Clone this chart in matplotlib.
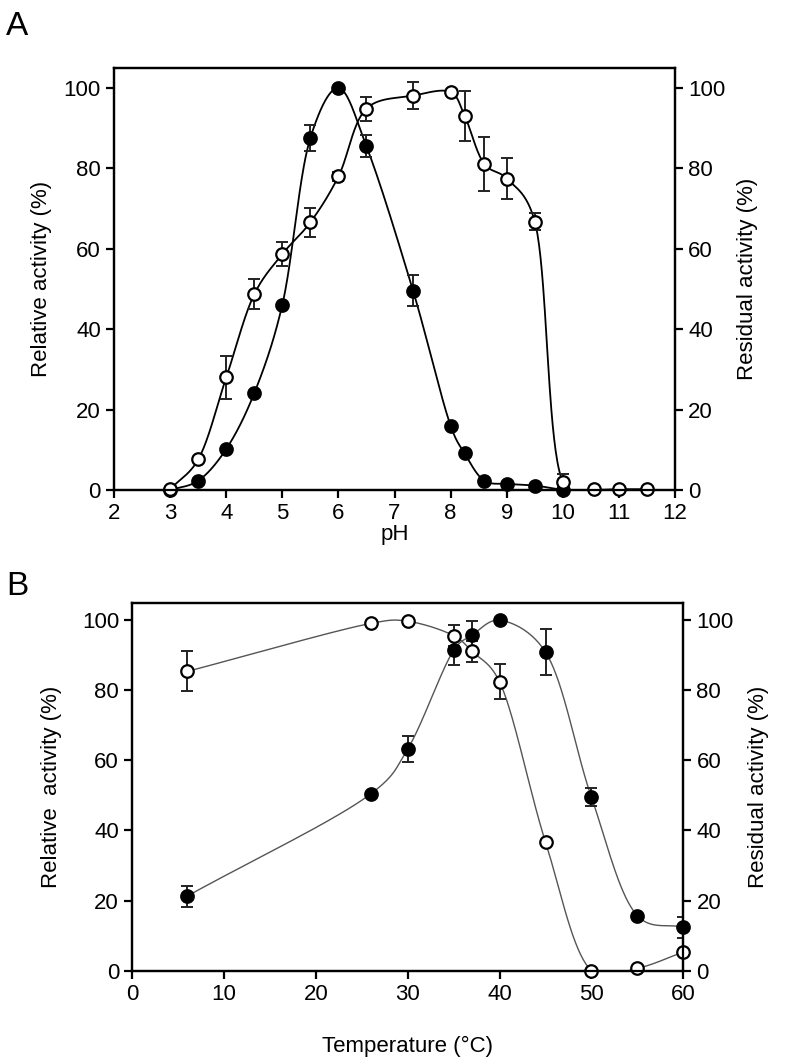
import numpy as np
import matplotlib
matplotlib.use("Agg")
import matplotlib.pyplot as plt

plt.rcParams['font.family'] = ['Liberation Sans', 'DejaVu Sans']

# ---- Panel A: pH ----
ph_rel = [3.0, 3.5, 4.0, 4.5, 5.0, 5.5, 6.0, 6.5, 7.33, 8.0, 8.25, 8.6, 9.0, 9.5, 10.0]
rel_ph = [0.0, 2.3, 10.2, 24.1, 46.1, 87.6, 100.0, 85.5, 49.6, 16.0, 9.1, 2.3, 1.5, 1.1, 0.0]
rel_ph_err = [0, 0, 0, 0, 0, 3.3, 0, 2.7, 3.9, 0, 0, 0, 0, 0, 0]

ph_res = [3.0, 3.5, 4.0, 4.5, 5.0, 5.5, 6.0, 6.5, 7.33, 8.0, 8.25, 8.6, 9.0, 9.5, 10.0, 10.55, 11.0, 11.5]
res_ph = [0.2, 7.6, 28.0, 48.7, 58.7, 66.6, 78.0, 94.9, 98.1, 99.0, 93.1, 81.1, 77.5, 66.8, 2.1, 0.2, 0.2, 0.2]
res_ph_err = [0, 0, 5.3, 3.7, 2.9, 3.6, 1.2, 3.0, 3.4, 0, 6.2, 6.8, 5.2, 2.0, 2.0, 0, 0, 0]

# ---- Panel B: temperature ----
temp = [6, 26, 30, 35, 37, 40, 45, 50, 55, 60]
rel_t = [21.3, 50.5, 63.3, 91.4, 95.7, 100.0, 90.9, 49.5, 15.7, 12.4]
rel_t_err = [3.0, 0, 3.8, 4.3, 4.0, 0, 6.6, 2.5, 0, 3.0]
res_t = [85.4, 99.1, 99.7, 95.6, 91.1, 82.4, 36.7, 0.0, 0.7, 5.3]
res_t_err = [5.7, 0, 0, 3.0, 3.0, 5.0, 0, 0, 0, 0]


def spline(x, y, sx, sy, alpha=0.3, n=40):
    # Catmull-Rom through the points, worked out in pixel space
    P = np.column_stack([np.asarray(x, float) * sx, np.asarray(y, float) * sy])
    P = np.vstack([2 * P[0] - P[1], P, 2 * P[-1] - P[-2]])
    out = []
    for i in range(1, len(P) - 2):
        p0, p1, p2, p3 = P[i - 1], P[i], P[i + 1], P[i + 2]
        t0 = 0.0
        t1 = t0 + max(np.linalg.norm(p1 - p0), 1e-6) ** alpha
        t2 = t1 + max(np.linalg.norm(p2 - p1), 1e-6) ** alpha
        t3 = t2 + max(np.linalg.norm(p3 - p2), 1e-6) ** alpha
        t = np.linspace(t1, t2, n)[:, None]
        a1 = (t1 - t) / (t1 - t0) * p0 + (t - t0) / (t1 - t0) * p1
        a2 = (t2 - t) / (t2 - t1) * p1 + (t - t1) / (t2 - t1) * p2
        a3 = (t3 - t) / (t3 - t2) * p2 + (t - t2) / (t3 - t2) * p3
        b1 = (t2 - t) / (t2 - t0) * a1 + (t - t0) / (t2 - t0) * a2
        b2 = (t3 - t) / (t3 - t1) * a2 + (t - t1) / (t3 - t1) * a3
        c = (t2 - t) / (t2 - t1) * b1 + (t - t1) / (t2 - t1) * b2
        out.append(c)
    out = np.vstack(out)
    return out[:, 0] / sx, out[:, 1] / sy


def draw_series(ax, x, y, err, filled, lcolor, lw, sx, sy):
    xs, ys = spline(x, y, sx, sy)
    ax.plot(xs, ys, color=lcolor, lw=lw, zorder=2)
    e = np.asarray(err, float)
    mask = e > 0
    ax.errorbar(np.asarray(x)[mask], np.asarray(y)[mask], yerr=e[mask], fmt='none',
                ecolor='#222222', elinewidth=1.4, capsize=4, capthick=1.4, zorder=3)
    ax.plot(x, y, 'o', ms=9, mfc='black' if filled else 'white', mec='black',
            mew=1.6, zorder=4, clip_on=False)


def style_axes(ax):
    for s in ax.spines.values():
        s.set_linewidth(1.6)
    ax.tick_params(direction='out', length=6, width=1.6, labelsize=16)
    ax.set_ylim(0, 105)
    ax.set_yticks(range(0, 101, 20))


fig = plt.figure(figsize=(7.93, 10.62), dpi=100)

# Panel A
axA = fig.add_axes([0.1438, 0.5386, 0.7074, 0.3974])
draw_series(axA, ph_rel, rel_ph, rel_ph_err, True, 'black', 1.3, 56.1, 4.02)
draw_series(axA, ph_res, res_ph, res_ph_err, False, 'black', 1.3, 56.1, 4.02)
style_axes(axA)
axA.set_xlim(2, 12)
axA.set_xticks(range(2, 13))
axA.set_xlabel('pH', fontsize=16, labelpad=0)
axA.set_ylabel('Relative activity (%)', fontsize=16, labelpad=8)
axA2 = axA.twinx()
style_axes(axA2)
axA2.set_ylabel('Residual activity (%)', fontsize=16, labelpad=8)
fig.text(0.008, 0.975, 'A', fontsize=24, va='center', ha='left')

# Panel B
axB = fig.add_axes([0.1668, 0.0860, 0.6948, 0.3465])
draw_series(axB, temp, rel_t, rel_t_err, True, '#555555', 1.0, 9.18, 3.5)
draw_series(axB, temp, res_t, res_t_err, False, '#555555', 1.0, 9.18, 3.5)
style_axes(axB)
axB.set_xlim(0, 60)
axB.set_xticks(range(0, 61, 10))
axB.set_xlabel('Temperature (°C)', fontsize=16, labelpad=22)
axB.set_ylabel('Relative  activity (%)', fontsize=16, labelpad=14)
axB2 = axB.twinx()
style_axes(axB2)
axB2.set_ylabel('Residual activity (%)', fontsize=16, labelpad=10)
fig.text(0.008, 0.448, 'B', fontsize=24, va='center', ha='left')

fig.savefig('out.png', dpi=100)
